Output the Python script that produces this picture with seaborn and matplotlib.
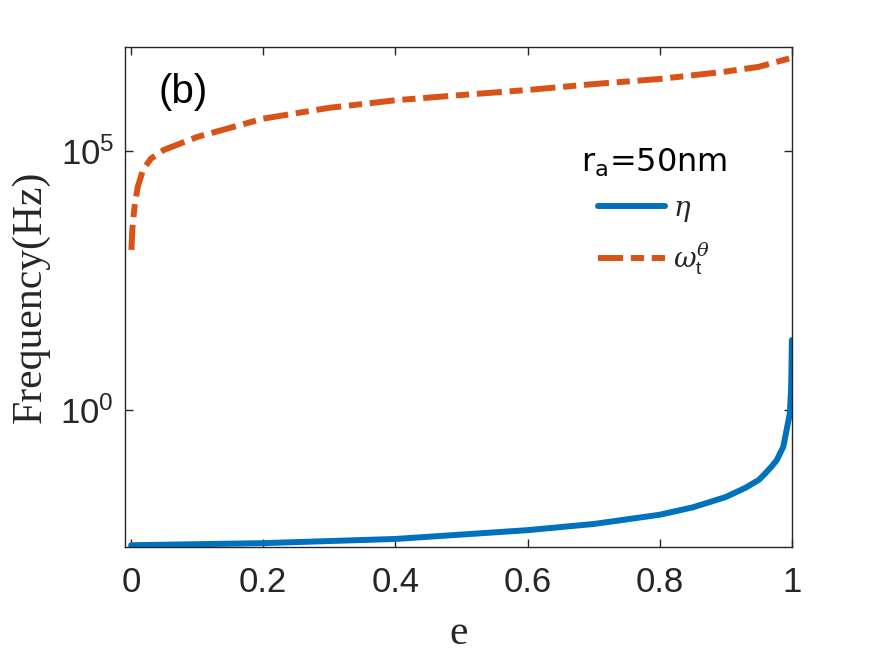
import numpy as np
import pandas as pd
import seaborn as sns
import matplotlib.pyplot as plt
from matplotlib.ticker import FixedLocator, FixedFormatter, NullLocator

# valores
e_eta = [0, 0.2, 0.4, 0.6, 0.7, 0.8, 0.85, 0.9, 0.93, 0.95, 0.96, 0.97, 0.977, 0.987, 0.992,
         0.997, 0.999, 1.0]
eta = [2.45e-3, 2.69e-3, 3.24e-3, 4.79e-3, 6.3e-3, 9.5e-3, 1.32e-2, 2.09e-2, 3.16e-2, 4.47e-2,
       6.0e-2, 8.3e-2, 0.107, 0.195, 0.41, 0.87, 3.16, 22.4]

e_omega = [0.0005, 0.002, 0.005, 0.01, 0.018, 0.03, 0.05, 0.1, 0.2, 0.3, 0.4, 0.5, 0.6, 0.7, 0.8,
           0.9, 0.95, 1.0]
omega = [1.23e3, 3.2e3, 7.9e3, 2.0e4, 4.3e4, 7.1e4, 1.05e5, 1.86e5, 4.2e5, 6.8e5, 9.5e5, 1.2e6,
         1.5e6, 1.95e6, 2.45e6, 3.4e6, 4.2e6, 6.3e6]

xticks = [0, 0.2, 0.4, 0.6, 0.8, 1]
xticklabels = ['0', '0.2', '0.4', '0.6', '0.8', '1']
yticks = [1, 1e5]
yticklabels = [r'10$^{0}$', r'10$^{5}$']

sns.set_theme(style='ticks')
plt.rcParams['font.family'] = ['Liberation Sans', 'DejaVu Sans']
plt.rcParams['mathtext.fontset'] = 'custom'
plt.rcParams['mathtext.rm'] = 'Liberation Sans'
plt.rcParams['mathtext.sf'] = 'DejaVu Sans'
plt.rcParams['mathtext.it'] = 'DejaVu Serif:italic'
plt.rcParams['mathtext.bf'] = 'Liberation Sans:bold'

df_eta = pd.DataFrame({'e': e_eta, 'f': eta})
df_om = pd.DataFrame({'e': e_omega, 'f': omega})

fig = plt.figure(figsize=(8.75, 6.57), dpi=100)
ax = fig.add_axes([0.143, 0.1674, 0.762, 0.7606])

sns.lineplot(data=df_eta, x='e', y='f', ax=ax, color='#0072BD', lw=4.3,
             estimator=None, sort=False, label=r'$\eta$')
sns.lineplot(data=df_om, x='e', y='f', ax=ax, color='#D95319', lw=4.3,
             estimator=None, sort=False, label=r'$\omega_{\rm t}^{\theta}$',
             linestyle=(0, (4.2, 1.3, 2.2, 1.3)))

ax.set_yscale('log')
ax.set_xlim(-0.009, 1.0)
ax.set_ylim(10 ** -2.645, 1e7)
ax.yaxis.set_major_locator(FixedLocator(yticks))
ax.yaxis.set_major_formatter(FixedFormatter(yticklabels))
ax.yaxis.set_minor_locator(NullLocator())
ax.set_xticks(xticks)
ax.set_xticklabels(xticklabels)

for s in ax.spines.values():
    s.set_color('#262626')
    s.set_linewidth(1.0)
ax.tick_params(direction='in', top=True, right=True, length=6, width=1,
               colors='#262626', labelsize=25)
ax.tick_params(axis='x', pad=14)
ax.tick_params(axis='y', pad=8)

ax.set_xlabel('e', family='Liberation Serif', fontsize=30, color='#262626', labelpad=11)
ax.set_ylabel('Frequency(Hz)', family='Liberation Serif', fontsize=30, color='#262626', labelpad=8)

ax.text(0.05, 0.91, '(b)', transform=ax.transAxes, fontsize=29, va='center', ha='left',
        color='black')

leg = ax.legend(loc='upper left', bbox_to_anchor=(0.684, 0.80), frameon=False,
                title=r'r$_{\mathsf{a}}$=50nm', title_fontsize=23, fontsize=20,
                handlelength=2.4, handletextpad=0.3, labelspacing=0.6,
                borderpad=0, borderaxespad=0)
leg.get_title().set_family(['DejaVu Sans'])
leg.get_title().set_color('black')

fig.savefig('out.png', dpi=100)
